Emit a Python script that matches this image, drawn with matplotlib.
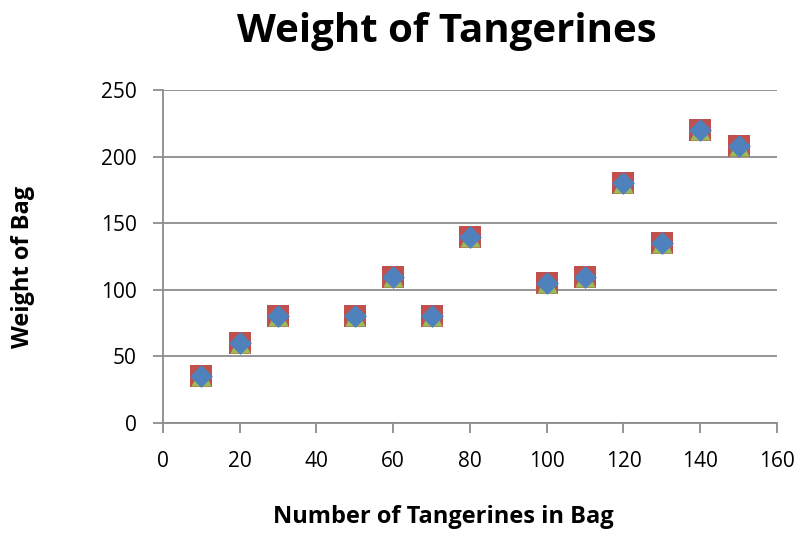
import matplotlib
matplotlib.use("Agg")
import matplotlib.pyplot as plt

plt.rcParams['font.family'] = ['Open Sans', 'DejaVu Sans']

# tangerine count vs bag weight (three identical series, as in the source chart)
count = [10, 20, 30, 50, 60, 70, 80, 100, 110, 120, 130, 140, 150]
weight = [35, 60, 80, 80, 110, 80, 140, 105, 110, 180, 135, 220, 208]

fig = plt.figure(figsize=(8.01, 5.36), dpi=100)
ax = fig.add_axes([0.2035, 0.2108, 0.7665, 0.6212])

ax.scatter(count, weight, marker='s', s=230, c='#C0504D', zorder=3, linewidths=0)
ax.scatter(count, weight, marker='^', s=210, c='#9BBB59', zorder=4, linewidths=0)
ax.scatter(count, weight, marker='D', s=135, c='#4F81BD', zorder=5, linewidths=0)

ax.set_xlim(0, 160)
ax.set_ylim(0, 250)
ax.set_xticks(range(0, 161, 20))
ax.set_yticks(range(0, 251, 50))
ax.yaxis.grid(True, color='#8C8C8C', linewidth=1.3)
ax.set_axisbelow(True)
for s in ['top', 'right']:
    ax.spines[s].set_visible(False)
for s in ['left', 'bottom']:
    ax.spines[s].set_color('#8C8C8C')
    ax.spines[s].set_linewidth(1.3)
ax.tick_params(direction='out', length=7, width=1.3, color='#8C8C8C',
               labelsize=15)
ax.tick_params(axis='x', pad=13)
ax.tick_params(axis='y', pad=12)

fig.text(0.558, 0.922, 'Weight of Tangerines', ha='center', va='baseline',
         fontsize=29, fontweight='bold')
fig.text(0.553, 0.025, 'Number of Tangerines in Bag', ha='center', va='baseline',
         fontsize=17, fontweight='bold')
fig.text(0.029, 0.502, 'Weight of Bag', ha='center', va='center',
         rotation=90, fontsize=17, fontweight='bold')

fig.savefig('out.png', dpi=100)
